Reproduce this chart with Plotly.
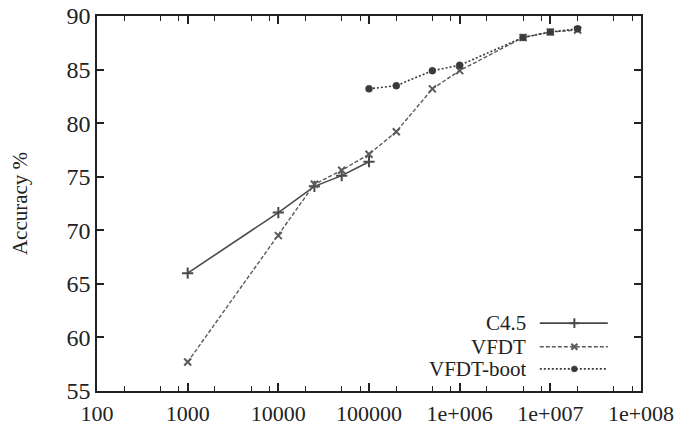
import plotly.graph_objects as go

# Data
c45_x = [1000, 10000, 25000, 50000, 100000]
c45_y = [66.0, 71.65, 74.1, 75.1, 76.4]

vfdt_x = [1000, 10000, 25000, 50000, 100000, 200000, 500000, 1000000, 5000000, 10000000, 20000000]
vfdt_y = [57.7, 69.5, 74.3, 75.6, 77.1, 79.2, 83.2, 84.9, 88.0, 88.5, 88.7]

boot_x = [100000, 200000, 500000, 1000000, 5000000, 10000000, 20000000]
boot_y = [83.2, 83.5, 84.9, 85.4, 88.0, 88.5, 88.8]

x_tickvals = [100, 1000, 10000, 100000, 1000000, 10000000, 100000000]
x_ticktext = ["100", "1000", "10000", "100000", "1e+006", "1e+007", "1e+008"]
y_tickvals = [55, 60, 65, 70, 75, 80, 85, 90]

series_names = ["C4.5", "VFDT", "VFDT-boot"]

minor_vals = []
for d in range(2, 8):
    for m in (2, 5, 8):
        minor_vals.append(m * 10 ** d)

FONT = "Liberation Serif"
fig = go.Figure()

styles = [
    dict(color="#4a4a4a", dash="solid", symbol="cross-thin", size=8, lw=1.6),
    dict(color="#5a5a5a", dash="4px,2px", symbol="x-thin", size=7, lw=1.4),
    dict(color="#3a3a3a", dash="2px,2px", symbol="circle", size=7, lw=1.6),
]
data = [(c45_x, c45_y), (vfdt_x, vfdt_y), (boot_x, boot_y)]

for (xs, ys), st, nm in zip(data, styles, series_names):
    fig.add_trace(go.Scatter(
        x=xs, y=ys, mode="lines+markers", name=nm, showlegend=False,
        line=dict(color=st["color"], width=st["lw"], dash=st["dash"]),
        marker=dict(symbol=st["symbol"], size=st["size"], color=st["color"],
                    line=dict(color=st["color"], width=2 if "thin" in st["symbol"] else 0.5)),
    ))

# Custom legend (text on left, sample on right), drawn on an auxiliary 0-1 axis
leg_y = [0.181, 0.118, 0.059]
for i, (st, nm) in enumerate(zip(styles, series_names)):
    fig.add_trace(go.Scatter(
        x=[0.814, 0.939], y=[leg_y[i], leg_y[i]], xaxis="x2", yaxis="y2",
        mode="lines", showlegend=False, hoverinfo="skip",
        line=dict(color=st["color"], width=st["lw"], dash=st["dash"]),
    ))
    fig.add_trace(go.Scatter(
        x=[0.8775], y=[leg_y[i]], xaxis="x2", yaxis="y2",
        mode="markers", showlegend=False, hoverinfo="skip",
        marker=dict(symbol=st["symbol"], size=st["size"] - 1, color=st["color"],
                    line=dict(color=st["color"], width=2 if "thin" in st["symbol"] else 0.5)),
    ))
    fig.add_annotation(
        x=0.79, y=leg_y[i], xref="x2", yref="y2", text=nm, showarrow=False,
        xanchor="right", yanchor="middle", height=22, borderpad=0,
        font=dict(family=FONT, size=21, color="#222222"),
    )

fig.update_layout(
    width=679, height=432,
    margin=dict(l=97, r=38, t=16, b=41),
    paper_bgcolor="white", plot_bgcolor="white",
    font=dict(family=FONT, size=22, color="#222222"),
    showlegend=False,
    xaxis=dict(
        type="log", range=[2, 8], tickvals=x_tickvals, ticktext=x_ticktext,
        ticks="inside", ticklen=8, tickwidth=1.5, tickcolor="#222",
        showline=True, linecolor="#222", linewidth=1.5, mirror="ticks",
        showgrid=False, zeroline=False, ticklabelstandoff=2, automargin=False,
        tickfont=dict(family=FONT, size=22),
        minor=dict(tickvals=minor_vals, ticks="inside", ticklen=5,
                   tickcolor="#222", tickwidth=1.2, showgrid=False),
    ),
    yaxis=dict(
        range=[55, 90], tickvals=y_tickvals, automargin=False,
        ticks="inside", ticklen=7, tickwidth=1.5, tickcolor="#222",
        showline=True, linecolor="#222", linewidth=1.5, mirror="ticks",
        showgrid=False, zeroline=False,
        tickfont=dict(family=FONT, size=24),
        title=dict(text="Accuracy %", font=dict(family=FONT, size=21), standoff=33),
    ),
    xaxis2=dict(range=[0, 1], overlaying="x", visible=False, fixedrange=True),
    yaxis2=dict(range=[0, 1], overlaying="y", visible=False, fixedrange=True),
)

fig.write_html("out.html")
